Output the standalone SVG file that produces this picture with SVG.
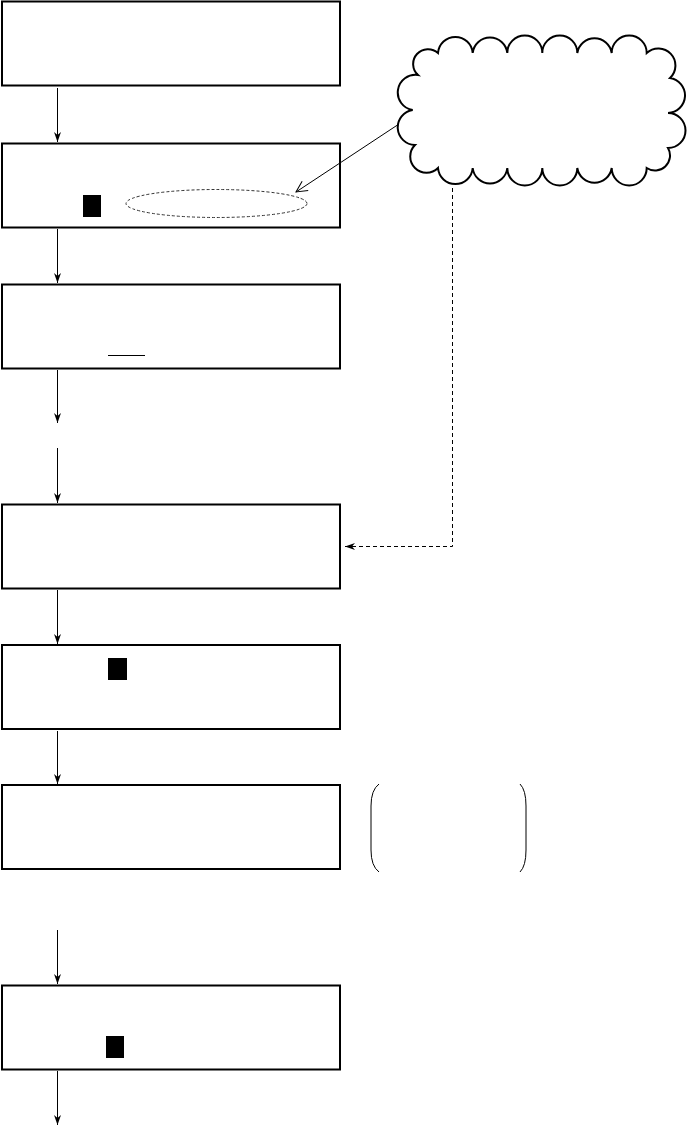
<svg xmlns="http://www.w3.org/2000/svg" width="688" height="1127" viewBox="0 0 688 1127">
<style>
.box{fill:#fff;stroke:#000;stroke-width:2}
.blk{fill:#000}
.ln{fill:none;stroke:#000;stroke-width:1}
.dash{fill:none;stroke:#000;stroke-width:1;stroke-dasharray:4,3}
</style>
<defs>
<marker id="ah" markerWidth="12" markerHeight="10" refX="10" refY="4" orient="auto" markerUnits="userSpaceOnUse">
<path d="M10,4 L0,0.5 L3,4 L0,7.5 Z" fill="#000"/>
</marker>
<marker id="open" markerWidth="14" markerHeight="14" refX="12" refY="7" orient="auto" markerUnits="userSpaceOnUse">
<path d="M1,1.5 L12,7 L1,12.5" fill="none" stroke="#000" stroke-width="1"/>
</marker>
</defs>
<g id="box1"><rect class="box" x="2" y="1.5" width="338" height="84"/></g>
<g id="box2"><rect class="box" x="2" y="143.5" width="338" height="84"/>
<rect class="blk" x="83" y="195" width="18" height="22"/>
<ellipse cx="216.5" cy="203.5" rx="90.5" ry="14" fill="none" stroke="#333" stroke-width="1" stroke-dasharray="3,2"/></g>
<g id="box3"><rect class="box" x="2" y="284.5" width="338" height="84"/>
<line class="ln" x1="108" y1="355.5" x2="145" y2="355.5"/></g>
<g id="box4"><rect class="box" x="2" y="504.5" width="338" height="84"/></g>
<g id="box5"><rect class="box" x="2" y="645" width="338" height="84"/>
<rect class="blk" x="108" y="658" width="19" height="22"/></g>
<g id="box6"><rect class="box" x="2" y="785" width="338" height="84"/></g>
<g id="paren">
<path class="ln" d="M379,784 Q371,790 371,806 L371,850 Q371,866 379,872"/>
<path class="ln" d="M520,784 Q526,790 526,806 L526,850 Q526,866 520,872"/></g>
<g id="box7"><rect class="box" x="2" y="985.5" width="338" height="84"/>
<rect class="blk" x="106" y="1036" width="18" height="22"/></g>
<g id="cloud">
<path fill="#fff" stroke="#000" stroke-width="2" d="M438,53 A17.4,17.4 0 0 1 472.7,53 A17.4,17.4 0 0 1 507.3,53 A17.4,17.4 0 0 1 542.3,53 A17.4,17.4 0 0 1 577.3,53 A17.4,17.4 0 0 1 611.7,53 A17.4,17.4 0 0 1 646.7,53 A17,17 0 0 1 670,78 A17.6,17.6 0 0 1 668,113 A17.5,17.5 0 0 1 668,148 A15,15 0 0 1 646.7,168 A17.4,17.4 0 0 1 611.7,168 A17.4,17.4 0 0 1 577.3,168 A17.4,17.4 0 0 1 542.3,168 A17.4,17.4 0 0 1 507.3,168 A17.4,17.4 0 0 1 472.7,168 A17.4,17.4 0 0 1 438,168 A16,16 0 0 1 415,145 A17.6,17.6 0 0 1 412.7,110 A17.7,17.7 0 0 1 418,75 A14.5,14.5 0 0 1 438,53 Z"/></g>
<g id="connectors">
<line class="ln" x1="57.5" y1="88" x2="57.5" y2="142" marker-end="url(#ah)"/>
<line class="ln" x1="57.5" y1="229" x2="57.5" y2="283" marker-end="url(#ah)"/>
<line class="ln" x1="57.5" y1="370" x2="57.5" y2="423" marker-end="url(#ah)"/>
<line class="ln" x1="57.5" y1="448" x2="57.5" y2="503" marker-end="url(#ah)"/>
<line class="ln" x1="57.5" y1="590" x2="57.5" y2="644" marker-end="url(#ah)"/>
<line class="ln" x1="57.5" y1="731" x2="57.5" y2="784" marker-end="url(#ah)"/>
<line class="ln" x1="57.5" y1="930" x2="57.5" y2="984" marker-end="url(#ah)"/>
<line class="ln" x1="57.5" y1="1071" x2="57.5" y2="1125" marker-end="url(#ah)"/>
<line class="ln" x1="399" y1="124" x2="296" y2="192" marker-end="url(#open)"/>
<path class="dash" d="M452.5,188 L452.5,546.5 L345,546.5" marker-end="url(#ah)"/>
</g>
</svg>
